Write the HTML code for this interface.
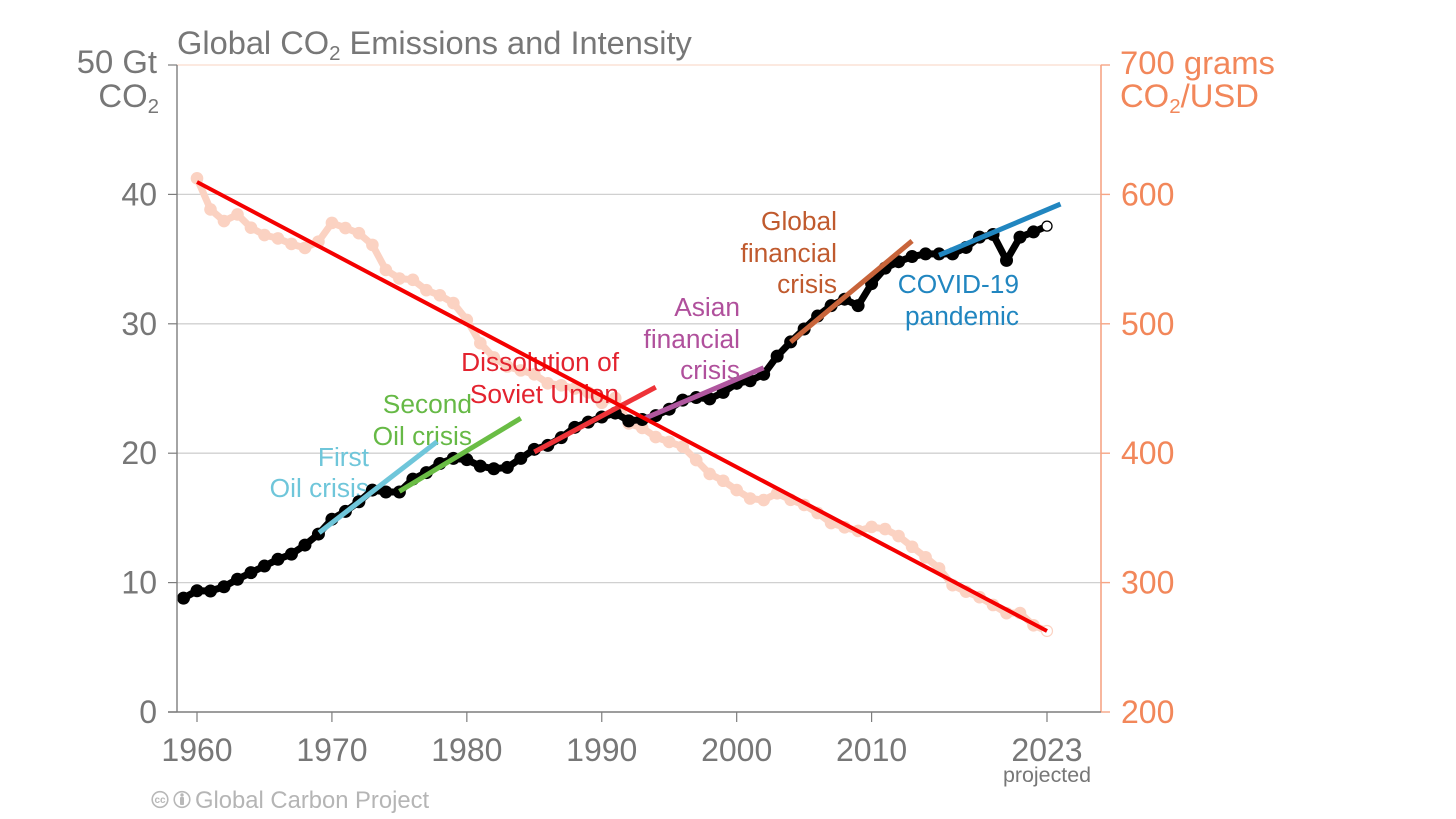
<!DOCTYPE html>
<html lang="en">
<head>
<meta charset="utf-8">
<title>Global CO2 Emissions and Intensity</title>
<style>
html,body{margin:0;padding:0;background:#fff;width:1456px;height:819px;overflow:hidden}
svg{display:block;font-family:"Liberation Sans",Arial,sans-serif}
.t{font-size:26.3px}
.tick{font-size:32px}
</style>
</head>
<body>
<svg id="chart" width="1456" height="819" viewBox="0 0 1456 819" xmlns="http://www.w3.org/2000/svg">
<g id="grid"></g>
<g id="intensity"></g>
<g>
<text class="t" x="369" y="466" text-anchor="end" fill="#6fc6da">First</text>
<text class="t" x="369" y="497" text-anchor="end" fill="#6fc6da">Oil crisis</text>
<text class="t" x="472" y="413" text-anchor="end" fill="#66b946">Second</text>
<text class="t" x="472" y="445" text-anchor="end" fill="#66b946">Oil crisis</text>
<text class="t" x="619" y="371" text-anchor="end" fill="#e3232f">Dissolution of</text>
<text class="t" x="619" y="403" text-anchor="end" fill="#e3232f">Soviet Union</text>
<text class="t" x="740" y="316" text-anchor="end" fill="#b0509c">Asian</text>
<text class="t" x="740" y="348" text-anchor="end" fill="#b0509c">financial</text>
<text class="t" x="740" y="379" text-anchor="end" fill="#b0509c">crisis</text>
<text class="t" x="837" y="230" text-anchor="end" fill="#c05a2e">Global</text>
<text class="t" x="837" y="262" text-anchor="end" fill="#c05a2e">financial</text>
<text class="t" x="837" y="293" text-anchor="end" fill="#c05a2e">crisis</text>
<text class="t" x="1019" y="293" text-anchor="end" fill="#2186c0">COVID-19</text>
<text class="t" x="1019" y="325" text-anchor="end" fill="#2186c0">pandemic</text>
</g>
<g id="emissions"></g>
<g id="segments"></g>
<g id="trend"></g>
<g id="axes"></g>
<text x="177" y="54" font-size="32.6" fill="#777">Global CO<tspan font-size="20.500" dy="6">2</tspan><tspan dy="-6"> Emissions and Intensity</tspan></text>
<text x="157" y="73" font-size="32.8" fill="#777" text-anchor="end">50 Gt</text>
<text x="159" y="107" font-size="32.8" fill="#777" text-anchor="end">CO<tspan font-size="20.500" dy="6">2</tspan></text>
<text x="1120" y="74" font-size="32.8" fill="#f2875a">700 grams</text>
<text x="1120" y="107" font-size="32.8" fill="#f2875a">CO<tspan font-size="20.500" dy="6">2</tspan><tspan dy="-6">/USD</tspan></text>
<text x="1047" y="782" font-size="21.400" fill="#777" text-anchor="middle">projected</text>
<g>
<circle cx="160" cy="799.500" r="7.800" fill="none" stroke="#b8b8b8" stroke-width="1.600"/>
<text x="160" y="803" font-size="10" font-weight="bold" fill="#b8b8b8" text-anchor="middle">cc</text>
<circle cx="182" cy="799.500" r="7.800" fill="none" stroke="#b8b8b8" stroke-width="1.600"/>
<circle cx="182" cy="795" r="1.700" fill="#b8b8b8"/>
<rect x="180" y="797" width="4" height="8" rx="1" fill="#b8b8b8"/>
</g>
<text x="195" y="808" font-size="23.800" fill="#b5b5b5">Global Carbon Project</text>
</svg>
<script>
const years = [1959,1960,1961,1962,1963,1964,1965,1966,1967,1968,1969,1970,1971,1972,1973,1974,1975,1976,1977,1978,1979,1980,1981,1982,1983,1984,1985,1986,1987,1988,1989,1990,1991,1992,1993,1994,1995,1996,1997,1998,1999,2000,2001,2002,2003,2004,2005,2006,2007,2008,2009,2010,2011,2012,2013,2014,2015,2016,2017,2018,2019,2020,2021,2022,2023];
const emissions = [8.8,9.37,9.35,9.68,10.26,10.77,11.28,11.8,12.2,12.9,13.75,14.9,15.5,16.25,17.15,17.0,17.0,18.0,18.5,19.2,19.6,19.5,19.0,18.8,18.9,19.6,20.3,20.6,21.2,22.0,22.4,22.8,23.1,22.5,22.6,22.9,23.4,24.1,24.3,24.2,24.7,25.4,25.6,26.1,27.5,28.6,29.6,30.6,31.4,31.9,31.4,33.1,34.3,34.8,35.2,35.4,35.4,35.4,35.9,36.7,36.9,34.9,36.7,37.1,37.55];
const intensity = [null,612.4,588.4,579.4,584.5,574.3,568.6,566,561.7,558.6,563.5,578,574,570,561,541.6,535,534,526,522,516,503,485,474,467,464,461,454,452.5,450,447,439,442.6,423,419.5,412.5,408.7,405,394.7,384,378.7,371.5,365,363.8,369,364,360,353.8,346,342.7,339.9,343,341.4,336,327.7,319.6,311,298,293,288.7,282.7,276.4,276.5,267,262.6];
const trendYears = [1960,2023];
const trendValues = [609.6,262.6];
const crisisNames = ['first-oil-crisis','second-oil-crisis','soviet-union','asian-crisis','global-crisis','covid'];
const crisisStartYears = [1969.05,1975,1985,1993.2,2004,2015];
const crisisStartValues = [13.85,17.05,20.1,22.7,28.6,35.3];
const crisisEndYears = [1977.8,1984,1994,2002,2013,2024];
const crisisEndValues = [20.9,22.7,25.1,26.6,36.4,39.25];
const crisisColors = ['#6fc6da','#6abd45','#ee3338','#b0579f','#c8643a','#2186c0'];
const xTicks = [1960,1970,1980,1990,2000,2010,2023];
const leftTicks = [0,10,20,30,40];
const rightTicks = [200,300,400,500,600];
const gridTicks = [10,20,30,40];
const leftTickMarks = [0,10,20,30,40,50];
const rightTickMarks = [200,300,400,500,600,700];

const NS = 'http://www.w3.org/2000/svg';
const X0 = 197, PXY = 13.492, Y0 = 712, PXL = 12.94, PXR = 1.294;
const AXL = 177, AXR = 1101, TOP = 65;
const x = v => X0 + (v - 1960) * PXY;
const yL = v => Y0 - v * PXL;
const yR = v => Y0 - (v - 200) * PXR;
function mk(parent, tag, attrs) {
  const el = document.createElementNS(NS, tag);
  for (const k in attrs) el.setAttribute(k, attrs[k]);
  parent.appendChild(el);
  return el;
}
const grid = document.getElementById('grid');
const axes = document.getElementById('axes');
const emG = document.getElementById('emissions');
const inG = document.getElementById('intensity');
const segG = document.getElementById('segments');
const trG = document.getElementById('trend');

gridTicks.forEach(v => {
  const el = mk(grid, 'line', {x1: AXL, x2: AXR, y1: yL(v), y2: yL(v), stroke: '#d0d0d0', 'stroke-width': 1.3});
  
  
});
const topLine = mk(grid, 'line', {x1: AXL, x2: AXR, y1: TOP, y2: TOP, stroke: '#fbdccd', 'stroke-width': 1.2});



/* intensity series */
const inPts = years.map((yr, i) => intensity[i] === null ? null : [x(yr), yR(intensity[i])]).filter(Boolean);
const inLine = mk(inG, 'polyline', {points: inPts.map(p => p.join(',')).join(' '), fill: 'none', stroke: '#fbd2c2', 'stroke-width': 7, 'stroke-linejoin': 'round'});


years.forEach((yr, i) => {
  if (intensity[i] === null) return;
  const last = i === years.length - 1;
  const c = mk(inG, 'circle', {cx: x(yr), cy: yR(intensity[i]), r: last ? 5.5 : 6.3, fill: last ? '#fff' : '#fbd2c2', stroke: last ? '#fbd2c2' : 'none', 'stroke-width': 1.2});
  
  
});

/* emissions series */
const emLine = mk(emG, 'polyline', {points: years.map((yr, i) => x(yr) + ',' + yL(emissions[i])).join(' '), fill: 'none', stroke: '#000', 'stroke-width': 7, 'stroke-linejoin': 'round'});


years.forEach((yr, i) => {
  const last = i === years.length - 1;
  const c = mk(emG, 'circle', {cx: x(yr), cy: yL(emissions[i]), r: last ? 5 : 6.5, fill: last ? '#fff' : '#000', stroke: last ? '#000' : 'none', 'stroke-width': 1.3});
  
  
});

/* crisis segments */
crisisNames.forEach((n, i) => {
  const l = mk(segG, 'line', {x1: x(crisisStartYears[i]), y1: yL(crisisStartValues[i]), x2: x(crisisEndYears[i]), y2: yL(crisisEndValues[i]), stroke: crisisColors[i], 'stroke-width': 5});
  
  
});

/* trend */
const tr = mk(trG, 'line', {x1: x(trendYears[0]), y1: yR(trendValues[0]), x2: x(trendYears[1]), y2: yR(trendValues[1]), stroke: '#f40000', 'stroke-width': 4});



/* axes */
const la = mk(axes, 'line', {x1: AXL, x2: AXL, y1: TOP, y2: Y0, stroke: '#7d7d7d', 'stroke-width': 1.4});


const ra = mk(axes, 'line', {x1: AXR, x2: AXR, y1: TOP, y2: Y0, stroke: '#f6a585', 'stroke-width': 1.6});


const ba = mk(axes, 'line', {x1: 168, x2: AXR, y1: Y0, y2: Y0, stroke: '#7d7d7d', 'stroke-width': 1.4});


leftTickMarks.forEach(v => {
  const t = mk(axes, 'line', {x1: 168, x2: AXL, y1: yL(v), y2: yL(v), stroke: '#7d7d7d', 'stroke-width': 1.2});
  
  
});
rightTickMarks.forEach(v => {
  const t = mk(axes, 'line', {x1: AXR, x2: 1110, y1: yR(v), y2: yR(v), stroke: '#f6a585', 'stroke-width': 1.4});
  
  
});
xTicks.forEach(v => {
  const t = mk(axes, 'line', {x1: x(v), x2: x(v), y1: Y0, y2: 722, stroke: '#7d7d7d', 'stroke-width': 1.2});
  
  
  const l = mk(axes, 'text', {x: x(v), y: 761, 'text-anchor': 'middle', 'class': 'tick', fill: '#777'});
  l.textContent = v;
  
  
});
leftTicks.forEach(v => {
  const l = mk(axes, 'text', {x: 157, y: yL(v) + 11, 'text-anchor': 'end', 'class': 'tick', fill: '#777'});
  l.textContent = v;
  
  
});
rightTicks.forEach(v => {
  const l = mk(axes, 'text', {x: 1121, y: yR(v) + 11, 'class': 'tick', fill: '#f2875a'});
  l.textContent = v;
  
  
});
</script>
</body>
</html>
